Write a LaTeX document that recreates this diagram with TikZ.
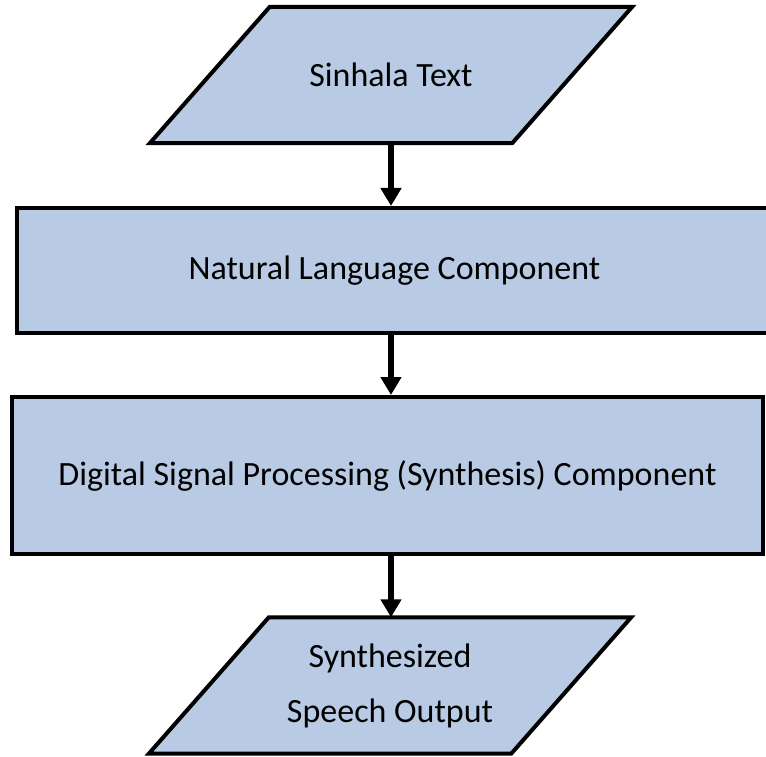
\documentclass[tikz,border=0pt]{standalone}
\usepackage{fontspec}
\setmainfont{Carlito}
\usetikzlibrary{arrows.meta,backgrounds}
\definecolor{boxfill}{RGB}{185,203,228}
\definecolor{boxshade}{RGB}{205,225,242}

\begin{document}
\begin{tikzpicture}[x=1pt,y=1pt,
  io/.style={rectangle, inner sep=0pt, minimum width=242pt, minimum height=136pt,
    align=center, font=\fontsize{34}{55}\selectfont},
  para/.style={draw, line width=4pt, fill=boxfill},
  blk/.style={rectangle, draw, line width=4pt, fill=boxfill, inner sep=0pt,
    font=\fontsize{34}{40}\selectfont},
  flow/.style={line width=6pt, -{Triangle[width=20pt,length=18pt]}}]
  \useasboundingbox (0,0) rectangle (766,-757);

  \node[io] (txt) at (391,-75) {Sinhala Text};
  \node[blk, minimum width=755pt, minimum height=125pt] (nlc) at (394.5,-270.5) {Natural Language Component};
  \node[blk, minimum width=751pt, minimum height=157pt] (dsp) at (387.5,-475.5) {Digital Signal Processing (Synthesis) Component};
  \node[io] (out) at (390,-685.5) {Synthesized\\Speech Output};

  % slanted input/output boxes behind the text
  \begin{scope}[on background layer]
    \foreach \n in {txt,out} {
      \fill[boxshade, shift={(3,-3)}] ([xshift=-120pt]\n.south west) -- (\n.south east)
        -- ([xshift=120pt]\n.north east) -- (\n.north west) -- cycle;
      \path[para] ([xshift=-120pt]\n.south west) -- (\n.south east)
        -- ([xshift=120pt]\n.north east) -- (\n.north west) -- cycle;
    }
  \end{scope}

  \path[flow]
  (txt.south) edge (txt.south |- nlc.north)
  (txt.south |- nlc.south) edge (txt.south |- dsp.north)
  (txt.south |- dsp.south) edge (txt.south |- out.north)
;
\end{tikzpicture}
\end{document}
